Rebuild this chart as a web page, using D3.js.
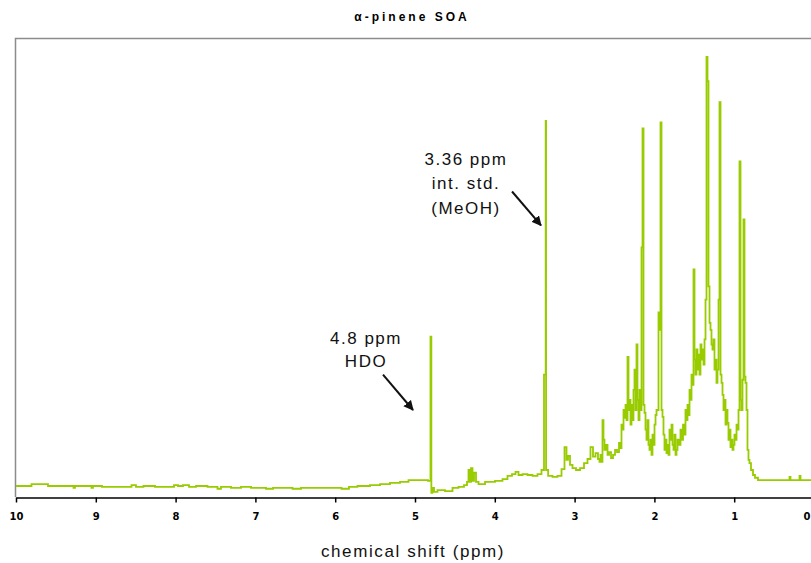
<!DOCTYPE html>
<html>
<head>
<meta charset="utf-8">
<script src="https://cdn.jsdelivr.net/npm/d3@7"></script>
<style>
  html, body { margin: 0; padding: 0; background: #ffffff; }
  svg { display: block; }
  text { font-family: "Liberation Sans", Arial, sans-serif; }
</style>
</head>
<body>
<svg id="chart" width="811" height="563"></svg>
<script>
// 1H NMR spectrum of alpha-pinene SOA: chemical shift (ppm) vs. relative intensity
const chartTitle = "α-pinene SOA";
const axisTitle = "chemical shift (ppm)";
const tickValues = [10, 9, 8, 7, 6, 5, 4, 3, 2, 1, 0];

// spectrum pieces as [chemical shift (ppm), relative intensity (% of full scale)]
// 10 - 4.9 ppm: flat, noisy baseline
const baselineRegion = [
  [10.000, 2.4], [9.887, 2.4], [9.724, 2.8], [9.612, 2.8], [9.586, 2.4],
  [9.286, 2.4], [9.273, 2.0], [9.248, 2.4], [9.060, 2.4], [9.048, 2.0],
  [9.023, 2.4], [8.822, 2.2], [8.596, 2.2], [8.509, 2.6], [8.484, 2.2],
  [8.321, 2.4], [8.195, 2.2], [8.045, 2.2], [7.995, 2.6], [7.945, 2.4],
  [7.870, 2.6], [7.794, 2.2], [7.694, 2.4], [7.506, 2.2], [7.444, 1.8],
  [7.419, 2.2], [7.193, 2.0], [7.168, 2.2], [6.942, 2.0], [6.792, 1.8],
  [6.767, 2.0], [6.629, 2.0], [6.441, 1.8], [6.416, 2.0], [6.190, 2.0],
  [6.003, 2.0], [5.840, 1.8], [5.815, 2.2], [5.627, 2.4], [5.501, 2.6],
  [5.376, 2.8], [5.251, 3.1], [5.125, 3.3], [5.038, 3.7], [4.937, 3.7]
];

// 4.9 - 2.7 ppm: HDO line, methanol standard, small multiplets
const midRegion = [
  [4.850, 3.7], [4.825, 3.5], [4.812, 3.5], [4.800, 35.0], [4.790, 0.9],
  [4.774, 2.0], [4.749, 1.1], [4.687, 1.5], [4.561, 1.3], [4.499, 2.0],
  [4.411, 2.2], [4.361, 2.6], [4.336, 3.3], [4.323, 5.9], [4.311, 3.3],
  [4.286, 6.3], [4.273, 3.5], [4.248, 5.3], [4.223, 3.3], [4.185, 2.8],
  [4.060, 3.3], [3.935, 3.5], [3.872, 3.9], [3.810, 4.6], [3.759, 5.0],
  [3.722, 5.5], [3.684, 4.8], [3.622, 5.0], [3.559, 4.8], [3.496, 4.6],
  [3.434, 5.0], [3.396, 5.9], [3.385, 5.9], [3.382, 26.7], [3.365, 26.7],
  [3.360, 82.1], [3.355, 5.9], [3.308, 4.6], [3.246, 4.4], [3.183, 4.6],
  [3.145, 6.1], [3.108, 10.9], [3.095, 8.1], [3.070, 9.0], [3.045, 7.0],
  [3.008, 6.3], [2.957, 5.9], [2.907, 6.3], [2.857, 7.4], [2.820, 8.3],
  [2.782, 10.9], [2.757, 8.8], [2.719, 9.6], [2.695, 8.3]
];

// 2.7 - 0.8 ppm: dense aliphatic envelope
const aliphaticRegion = [
  [2.682, 7.7], [2.669, 9.2], [2.657, 7.7], [2.644, 16.8], [2.632, 12.5],
  [2.619, 10.3], [2.594, 11.4], [2.581, 9.2], [2.556, 9.8], [2.531, 8.5],
  [2.506, 9.2], [2.481, 10.3], [2.456, 9.8], [2.431, 11.8], [2.419, 10.7],
  [2.406, 15.8], [2.393, 14.7], [2.381, 19.0], [2.368, 17.3], [2.356, 20.1],
  [2.343, 16.8], [2.331, 30.6], [2.318, 19.0], [2.306, 21.2], [2.293, 15.8],
  [2.281, 20.1], [2.268, 16.8], [2.256, 23.4], [2.243, 27.8], [2.231, 19.0],
  [2.218, 33.3], [2.206, 21.2], [2.193, 16.8], [2.180, 23.4], [2.168, 19.0],
  [2.155, 54.5], [2.143, 80.5], [2.130, 20.1], [2.118, 18.4], [2.105, 14.7],
  [2.093, 12.5], [2.080, 16.8], [2.068, 11.4], [2.055, 10.3], [2.043, 12.5],
  [2.030, 9.2], [2.018, 13.6], [2.005, 11.4], [1.992, 15.8], [1.980, 17.9],
  [1.967, 19.0], [1.955, 19.0], [1.942, 40.3], [1.930, 36.5], [1.917, 81.8],
  [1.905, 19.0], [1.892, 17.5], [1.880, 13.6], [1.867, 10.3], [1.855, 12.5],
  [1.842, 9.6], [1.830, 11.4], [1.817, 9.2], [1.805, 14.7], [1.792, 12.5],
  [1.779, 15.8], [1.767, 11.4], [1.754, 10.3], [1.742, 13.6], [1.729, 9.2],
  [1.717, 10.3], [1.704, 12.5], [1.679, 11.4], [1.667, 14.7], [1.654, 12.5],
  [1.629, 15.8], [1.617, 13.6], [1.604, 19.0], [1.592, 16.8], [1.579, 20.1],
  [1.566, 17.9], [1.554, 23.4], [1.541, 21.2], [1.529, 26.7], [1.516, 24.5],
  [1.504, 49.7], [1.491, 30.0], [1.479, 26.7], [1.466, 32.2], [1.454, 27.8],
  [1.441, 31.1], [1.429, 26.7], [1.416, 33.3], [1.404, 30.0], [1.391, 32.2],
  [1.378, 28.9], [1.366, 34.4], [1.353, 43.1], [1.341, 96.1], [1.328, 90.8],
  [1.316, 46.0], [1.303, 38.0], [1.291, 36.5], [1.278, 33.3], [1.266, 32.2],
  [1.253, 34.4], [1.241, 27.8], [1.228, 30.0], [1.216, 24.9], [1.203, 27.8],
  [1.190, 43.1], [1.178, 86.2], [1.165, 26.7], [1.153, 24.9], [1.140, 22.3],
  [1.128, 19.0], [1.115, 21.2], [1.103, 15.8], [1.090, 19.0], [1.078, 16.2],
  [1.065, 12.5], [1.053, 14.7], [1.040, 10.9], [1.028, 12.5], [1.015, 10.3],
  [1.003, 11.4], [0.990, 13.6], [0.977, 12.5], [0.965, 15.8], [0.952, 14.7],
  [0.940, 19.0], [0.927, 73.3], [0.915, 21.2], [0.902, 19.0], [0.890, 25.6],
  [0.877, 60.6], [0.865, 26.3], [0.852, 24.9], [0.840, 19.0], [0.827, 10.3],
  [0.815, 8.1], [0.802, 7.4], [0.777, 5.9], [0.752, 4.8], [0.727, 4.2]
];

// 0.7 - 0 ppm: quiet tail
const tailRegion = [
  [0.677, 3.7], [0.551, 3.7], [0.313, 3.7], [0.301, 4.4], [0.288, 3.7],
  [0.188, 3.7], [0.175, 4.6], [0.163, 3.7], [0.000, 3.7]
];

// peak annotations: text lines anchored in data units, arrows pointing at the peaks
const noteLines = [
  { text: "4.8 ppm",  ppm: 5.614, y: 33.3 },
  { text: "HDO",      ppm: 5.614, y: 28.4 },
  { text: "3.36 ppm", ppm: 4.361, y: 72.4 },
  { text: "int. std.", ppm: 4.361, y: 67.2 },
  { text: "(MeOH)",   ppm: 4.361, y: 61.7 }
];
const noteArrows = [
  { fromPpm: 5.401, fromY: 26.7, toPpm: 5.025, toY: 19.0 },
  { fromPpm: 3.784, fromY: 66.7, toPpm: 3.421, toY: 59.3 }
];

const W = 811, H = 563;
const plotLeft = 16, plotRight = 814, plotTop = 39, plotBottom = 497;

const svg = d3.select("#chart");

const x = d3.scaleLinear().domain([10, 0]).range([plotLeft, plotRight]);
const y = d3.scaleLinear().domain([0, 100]).range([plotBottom, plotTop]);

const defs = svg.append("defs");
defs.append("clipPath").attr("id", "plotClip")
  .append("rect").attr("x", plotLeft).attr("y", plotTop)
  .attr("width", W - plotLeft).attr("height", plotBottom - plotTop);

defs.append("marker")
  .attr("id", "arrowHead")
  .attr("viewBox", "0 0 10 10")
  .attr("refX", 9).attr("refY", 5)
  .attr("markerWidth", 5).attr("markerHeight", 5)
  .attr("markerUnits", "strokeWidth")
  .attr("orient", "auto")
  .append("path").attr("d", "M0,0 L10,5 L0,10 Z").attr("fill", "#111");

// plot frame (left and top edges)
svg.append("path")
  .attr("d", `M${plotLeft - 0.5},${plotBottom} V${plotTop - 0.5} H${W}`)
  .attr("fill", "none").attr("stroke", "#8c8c8c").attr("stroke-width", 1.5);

// spectrum trace
const spectrum = [].concat(baselineRegion, midRegion, aliphaticRegion, tailRegion);
svg.append("path")
  .datum(spectrum)
  .attr("clip-path", "url(#plotClip)")
  .attr("fill", "none")
  .attr("stroke", "#99cc00")
  .attr("stroke-width", 1.8)
  .attr("stroke-linejoin", "miter")
  .attr("d", d3.line().curve(d3.curveStep).x(d => x(d[0])).y(d => y(d[1])));

// x axis
const xAxis = d3.axisBottom(x).tickValues(tickValues).tickSize(5).tickSizeOuter(0).tickFormat(d3.format("d"));
const gx = svg.append("g").attr("transform", `translate(0,${plotBottom + 0.5})`).call(xAxis);
gx.select(".domain").attr("stroke", "#000").attr("stroke-width", 1.5);
gx.selectAll(".tick line").attr("stroke", "#000").attr("stroke-width", 1.5);
gx.selectAll(".tick text")
  .attr("y", 15)
  .attr("fill", "#000")
  .style("font-family", "'DejaVu Sans', sans-serif")
  .style("font-size", "10px")
  .style("font-weight", "bold");
// the last label sits at the right edge of the window; keep it inside
gx.selectAll(".tick text").filter(d => d === 0)
  .attr("text-anchor", "end").attr("x", -4);

// title
svg.append("text")
  .attr("x", 412).attr("y", 21)
  .attr("text-anchor", "middle")
  .style("font-size", "12px").style("font-weight", "bold")
  .style("letter-spacing", "3px")
  .attr("fill", "#000")
  .text(chartTitle);

// axis title
svg.append("text")
  .attr("x", 413).attr("y", 557)
  .attr("text-anchor", "middle")
  .style("font-size", "17px")
  .style("letter-spacing", "1.6px")
  .attr("fill", "#111")
  .text(axisTitle);

// annotations
svg.selectAll("text.note")
  .data(noteLines).join("text")
  .attr("class", "note")
  .attr("x", d => x(d.ppm)).attr("y", d => y(d.y))
  .attr("text-anchor", "middle")
  .style("font-size", "17px")
  .style("letter-spacing", "1.5px")
  .attr("fill", "#111")
  .text(d => d.text);

svg.selectAll("line.arrow")
  .data(noteArrows).join("line")
  .attr("class", "arrow")
  .attr("x1", d => x(d.fromPpm)).attr("y1", d => y(d.fromY))
  .attr("x2", d => x(d.toPpm)).attr("y2", d => y(d.toY))
  .attr("stroke", "#111").attr("stroke-width", 2)
  .attr("marker-end", "url(#arrowHead)");
</script>
</body>
</html>
